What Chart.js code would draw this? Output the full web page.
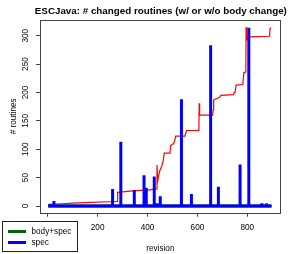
<!DOCTYPE html>
<html>
<head>
<meta charset="utf-8">
<script src="https://cdn.jsdelivr.net/npm/chart.js@4.4.1/dist/chart.umd.min.js"></script>
<style>
  html, body { margin: 0; padding: 0; background: #fff; }
  #wrap { width: 294px; height: 254px; }
</style>
</head>
<body>
<div id="wrap"><canvas id="chartCanvas" width="294" height="254"></canvas></div>
<script>
// Chart data
const titleText = 'ESCJava: # changed routines (w/ or w/o body change)';
const xTitle = 'revision';
const yTitle = '# routines';

// tick labels
const xTicks = [0, 200, 400, 600, 800];
const yTicks = [0, 50, 100, 150, 200, 250, 300];

// first and last revision of the history
const firstRev = 2;
const lastRev = 897;

// "spec" series: revisions with changed routines and their counts
const specRevs = [25, 260, 293, 347, 386, 395, 427, 438, 451, 536, 576, 653, 684, 771, 806, 858];
const specVals = [9, 30, 113, 28, 54, 32, 52, 5, 17, 188, 21, 283, 34, 73, 314, 5];

// "body+spec" series
const bodySpecRevs = [877];
const bodySpecVals = [5];

// red running line (no legend entry)
const totalRevs = [2, 60, 100, 150, 170, 250, 278, 280, 300, 350, 400, 436, 438, 441, 445, 449, 453, 457, 463, 467,
  490, 493, 505, 510, 513, 550, 556, 606, 607, 609, 661, 663, 665, 670, 688, 694, 745, 748, 751, 755, 782, 786,
  794, 795, 798, 806, 889, 891, 896];
const totalVals = [3, 4, 5, 6, 6.5, 7.5, 8, 24, 25, 27, 28, 30, 72, 45, 54, 62, 66, 70, 80, 93,
  93, 107, 110, 117, 123, 123, 133, 133, 181, 160, 160, 169, 187, 188, 191, 195, 196, 200, 200, 213, 214, 235,
  236, 315, 293, 298, 299, 313, 314];

const FONT = "'Liberation Sans', Arial, Helvetica, sans-serif";

// Build a vertical-spike line: zero baseline with a spike at each revision
function spikes(revs, vals) {
  const pts = [{ x: firstRev, y: 0 }];
  revs.forEach((r, i) => {
    pts.push({ x: r, y: 0 }, { x: r, y: vals[i] }, { x: r, y: 0 });
  });
  pts.push({ x: lastRev, y: 0 });
  return pts;
}

// Box around the plot region, title and the bottom-left legend (R style)
const rDecor = {
  id: 'rDecor',
  afterDraw(chart) {
    const { ctx, chartArea: a } = chart;
    ctx.save();
    ctx.strokeStyle = '#444';
    ctx.lineWidth = 1;
    ctx.strokeRect(Math.round(a.left) + 0.5, Math.round(a.top) + 0.5,
      Math.round(a.right - a.left) - 1, Math.round(a.bottom - a.top));

    ctx.fillStyle = '#000';
    ctx.font = 'bold 9.8px ' + FONT;
    ctx.textAlign = 'center';
    ctx.textBaseline = 'alphabetic';
    ctx.fillText(titleText, (a.left + a.right) / 2 + 0.5, 14);

    // legend
    const items = chart.data.datasets.filter(d => d.inLegend);
    ctx.fillStyle = '#fff';
    ctx.fillRect(2.5, 221.5, 75, 30);
    ctx.strokeStyle = '#222';
    ctx.strokeRect(2.5, 221.5, 75, 30);
    ctx.font = '8.2px ' + FONT;
    ctx.textAlign = 'left';
    ctx.textBaseline = 'middle';
    items.forEach((d, i) => {
      const y = 231.5 + i * 11;
      ctx.strokeStyle = d.borderColor;
      ctx.lineWidth = 3;
      ctx.beginPath();
      ctx.moveTo(8, y);
      ctx.lineTo(26, y);
      ctx.stroke();
      ctx.fillStyle = '#000';
      ctx.fillText(d.label, 31.5, y);
    });
    ctx.restore();
  }
};

Chart.defaults.color = '#000';
Chart.defaults.font.family = FONT;
Chart.defaults.font.size = 8.2;

try {
  const ctx = document.querySelector('#chartCanvas').getContext('2d');
  new Chart(ctx, {
    type: 'line',
    data: {
      datasets: [
        {
          label: 'total',
          data: totalRevs.map((r, i) => ({ x: r, y: totalVals[i] })),
          borderColor: '#ff0000',
          borderWidth: 1.2,
          pointRadius: 0,
          order: 2
        },
        {
          label: 'body+spec',
          inLegend: true,
          data: spikes(bodySpecRevs, bodySpecVals),
          borderColor: '#006400',
          borderWidth: 3,
          pointRadius: 0,
          order: 1
        },
        {
          label: 'spec',
          inLegend: true,
          data: spikes(specRevs, specVals),
          borderColor: '#0000ff',
          borderWidth: 3,
          pointRadius: 0,
          order: 0
        }
      ]
    },
    options: {
      responsive: false,
      animation: false,
      events: [],
      layout: { padding: { top: 20, right: 13.3, left: 0, bottom: 0 } },
      plugins: { legend: { display: false }, title: { display: false }, tooltip: { enabled: false } },
      scales: {
        x: {
          type: 'linear',
          min: -30.9,
          max: 933.8,
          afterBuildTicks: s => { s.ticks = xTicks.map(v => ({ value: v })); },
          afterFit: s => { s.height = 41.3; },
          grid: { drawOnChartArea: false, tickLength: 4, color: '#444' },
          border: { display: false },
          ticks: { padding: 6.5, maxRotation: 0 },
          title: { display: true, text: xTitle, padding: { top: 0, bottom: 0 } }
        },
        y: {
          type: 'linear',
          min: -11.8,
          max: 327.6,
          afterBuildTicks: s => { s.ticks = yTicks.map(v => ({ value: v })); },
          afterFit: s => { s.width = 40; },
          grid: { drawOnChartArea: false, tickLength: 4, color: '#444' },
          border: { display: false },
          ticks: { minRotation: 90, maxRotation: 90, crossAlign: 'center', padding: 3.7 },
          title: { display: true, text: yTitle, padding: { top: 8.9, bottom: 0 } }
        }
      }
    },
    plugins: [rDecor]
  });
} catch (error) {
  console.error('Error initializing chart:', error);
}
</script>
</body>
</html>
